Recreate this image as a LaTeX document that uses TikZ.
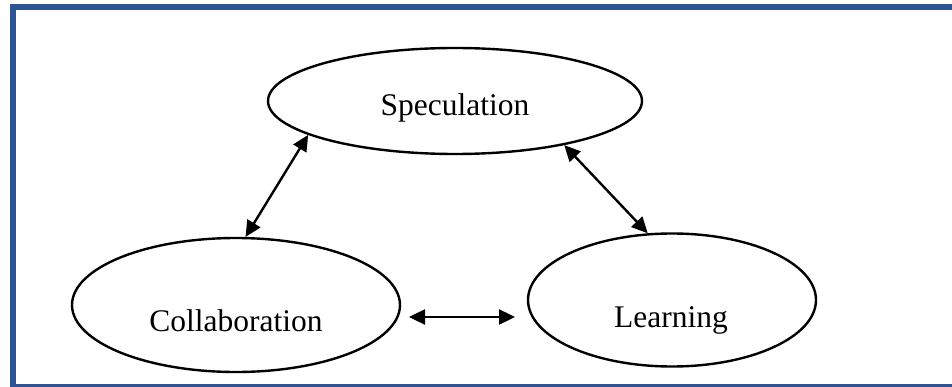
\documentclass[tikz,border=0pt]{standalone}
\usepackage{fontspec}
\setmainfont{Liberation Serif}
\usetikzlibrary{shapes.geometric,arrows.meta}
\definecolor{framebl}{RGB}{47,84,150}
\tikzset{
  oval/.style={draw=black, line width=2.4pt, ellipse, inner sep=0pt},
  word/.style={anchor=base, font=\fontsize{31.5}{36}\selectfont, inner sep=0pt},
  link/.style={line width=2.4pt, {Triangle[length=16pt,width=15pt]}-{Triangle[length=16pt,width=15pt]}}
}
\begin{document}
\begin{tikzpicture}[x=1pt,y=-1pt]
  \useasboundingbox (0,0) rectangle (952,387);
  \clip (0,0) rectangle (952,387);
  % outer frame
  \draw[framebl, line width=6pt] (13,7) rectangle (970,387);
  % the three ovals
  \node[oval, minimum width=374pt, minimum height=106pt] (spec) at (455,101) {};
  \node[oval, minimum width=328pt, minimum height=134pt] (coll) at (236,305) {};
  \node[oval, minimum width=288pt, minimum height=133pt] (learn) at (672,300) {};
  % labels
  \node[word] (spectxt) at (455,116) {Speculation};
  \node[word] (colltxt) at (236,331) {Collaboration};
  \node[word] (learntxt) at (671,327) {Learning};
  % connectors
  \draw[link] (coll.82) -- (spec.193);
  \draw[link] (spec.338.7) -- (learn.110.6);
  \coordinate (h1) at (409,317);
  \coordinate (h2) at (515,317);
  \draw[link] (h1) -- (h2);
\end{tikzpicture}
\end{document}
